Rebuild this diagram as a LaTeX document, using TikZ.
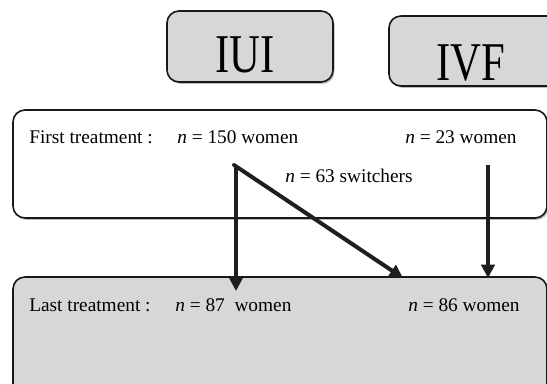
\documentclass[tikz,border=0pt]{standalone}
\usepackage{fontspec}
\usepackage{graphicx}
\setmainfont{Liberation Serif}
\usetikzlibrary{arrows.meta,fit,shadows}
\definecolor{boxgray}{HTML}{D6D7D9}
\definecolor{shadowgray}{HTML}{B8B9BB}
\tikzset{
  roundbox/.style={draw=black!90, line width=1.2pt, rounded corners=9pt, inner sep=0pt,
     drop shadow={shadow xshift=1.2pt, shadow yshift=-1.4pt, fill=shadowgray, opacity=1}},
  graybox/.style={roundbox, fill=boxgray},
  whitebox/.style={roundbox, fill=white},
  lbl/.style={anchor=base west, inner sep=0pt, font=\fontsize{14.5pt}{16pt}\selectfont},
  big/.style={anchor=center, inner sep=0pt, font=\fontsize{32pt}{36pt}\selectfont},
  flow/.style={draw=black!88, line width=3pt, -{Triangle[width=10pt,length=10pt]}},
}
\begin{document}
\begin{tikzpicture}[x=0.75pt,y=-0.75pt]
\useasboundingbox (0,0) rectangle (547,384);
\clip (0,0) rectangle (547,384);
% top boxes
\node[graybox, fit={(167,11) (333,82)}] (iui) {};
\node[big] (iuit) at (245,55) {\scalebox{1}[1.28]{IUI}};
\node[graybox, fit={(389,16) (575,86)}] (ivf) {};
\node[big] (ivft) at (471,63) {\scalebox{1}[1.28]{IVF}};
% first treatment box
\node[whitebox, fit={(13,110) (547,218)}] (first) {};
\node[lbl] (ft) at (29,144) {First treatment :};
\node[lbl] (f150) at (177,144) {\textit{n} = 150 women};
\node[lbl] (f23) at (405,144) {\textit{n} = 23 women};
\node[lbl] (sw) at (285,183) {\textit{n} = 63 switchers};
% last treatment box
\node[graybox, fit={(13,277) (547,400)}] (last) {};
\node[lbl] (lt) at (29,312) {Last treatment :};
\node[lbl] (l87) at (175,312) {\textit{n} = 87\ \ women};
\node[lbl] (l86) at (408,312) {\textit{n} = 86 women};
% arrow coordinates
\coordinate (a1s) at (236,165);
\coordinate (a1e) at (236,291);
\coordinate (a2s) at (234,165);
\coordinate (a2e) at (403,278);
\coordinate (a3s) at (488,165);
\coordinate (a3e) at (488,278);
\draw[flow] (a1s) -- (a1e);
\draw[flow, line cap=round] (a2s) -- (a2e);
\draw[flow] (a3s) -- (a3e);
\end{tikzpicture}
\end{document}
